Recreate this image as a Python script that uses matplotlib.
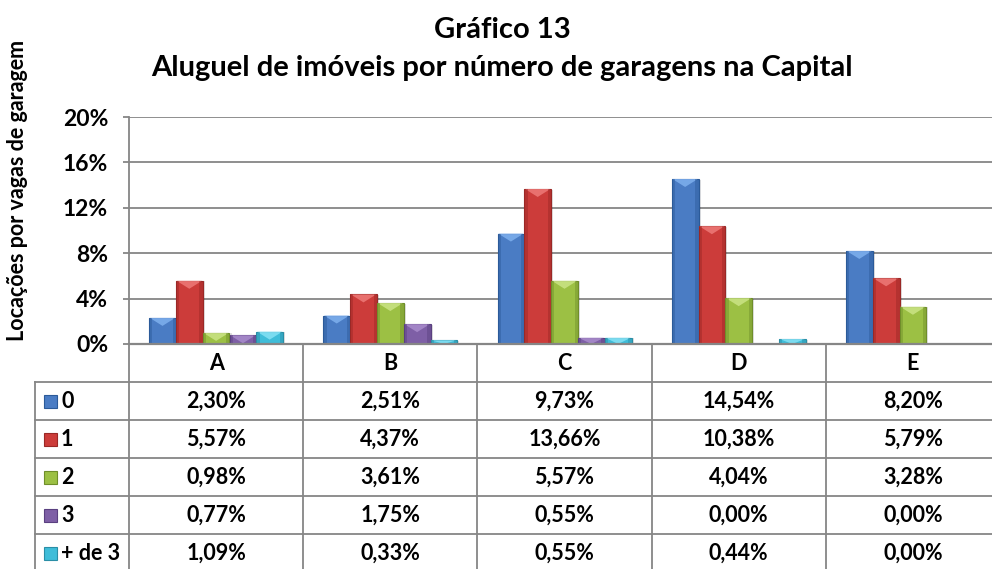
import numpy as np
import matplotlib
matplotlib.use("Agg")
import matplotlib.pyplot as plt
import matplotlib.transforms as mtransforms
from matplotlib.patches import Rectangle, Polygon

plt.rcParams['font.family'] = ['Lato', 'DejaVu Sans']
plt.rcParams['font.weight'] = 'bold'

categories = ["A", "B", "C", "D", "E"]
series_names = ["0", "1", "2", "3", "+ de 3"]
# percentages
s0 = [2.30, 2.51, 9.73, 14.54, 8.20]
s1 = [5.57, 4.37, 13.66, 10.38, 5.79]
s2 = [0.98, 3.61, 5.57, 4.04, 3.28]
s3 = [0.77, 1.75, 0.55, 0.00, 0.00]
s4 = [1.09, 0.33, 0.55, 0.44, 0.00]
series = [s0, s1, s2, s3, s4]
yticks = [0, 4, 8, 12, 16, 20]

colors = ["#4a7cc4", "#cc3c3a", "#9cc044", "#7e5fa6", "#3fbdd9"]
edges = ["#2b5a99", "#9a2826", "#6f8e2a", "#5a4080", "#2a8ea6"]
tops = ["#7fb0ee", "#ee7a78", "#cbe486", "#a98ccc", "#86e2f5"]

W, H = 992, 569
fig = plt.figure(figsize=(W / 100, H / 100), dpi=100)

def fx(px):
    return px / W

def fy(py):
    return 1 - py / H

ax_l, ax_r, ax_t, ax_b = 129, 1000, 117, 344
ax = fig.add_axes([fx(ax_l), fy(ax_b), fx(ax_r - ax_l), fy(ax_t) - fy(ax_b)])
ax.set_xlim(0, len(categories))
ax.set_ylim(0, 20)
for s in ["top", "right", "bottom"]:
    ax.spines[s].set_visible(False)
ax.spines["left"].set_color("#868686")
ax.spines["left"].set_linewidth(1.3)
ax.set_xticks([])
ax.set_yticks(yticks)
ax.set_yticklabels([f"{v}%" for v in yticks], fontsize=16.5, fontweight='bold')
ax.tick_params(axis='y', length=4, color="#868686", width=1.3, pad=11)
ax.grid(axis='y', color="#868686", linewidth=1.3)
ax.set_axisbelow(True)

# bars with a simple bevel look
n = len(series)
bw = 1 / (n + 1.5)
ppu = (ax_b - ax_t) / 20.0  # pixels per percent
for k, vals in enumerate(series):
    for i, v in enumerate(vals):
        x0 = i + 0.5 - n * bw / 2 + k * bw
        if v <= 0:
            continue
        # shadow
        ax.add_patch(Rectangle((x0 + 0.012, 0), bw, v - 0.05, facecolor="#000000",
                               alpha=0.12, linewidth=0, zorder=2))
        ax.add_patch(Rectangle((x0, 0), bw, v, facecolor=colors[k],
                               edgecolor=edges[k], linewidth=0.8, zorder=3))
        cap = min(v, 8 / ppu)
        ax.add_patch(Polygon([(x0 + 0.004, v), (x0 + bw - 0.004, v),
                              (x0 + bw * 0.5, v - cap)],
                             closed=True, facecolor=tops[k], linewidth=0,
                             alpha=0.85, zorder=4))
        ax.add_patch(Rectangle((x0, 0), bw * 0.12, v, facecolor=edges[k],
                               alpha=0.45, linewidth=0, zorder=4))
        ax.add_patch(Rectangle((x0 + bw * 0.88, 0), bw * 0.12, v, facecolor=edges[k],
                               alpha=0.45, linewidth=0, zorder=4))

# data table below the axes
tr = mtransforms.blended_transform_factory(ax.transData, fig.transFigure)
line_c = "#868686"
row_edges = [344, 382, 420, 458, 496, 534, 572]
tab_l = 35
fs_tab = 15.5

# horizontal lines
fig.add_artist(plt.Line2D([fx(ax_l), fx(ax_r)], [fy(row_edges[0])] * 2,
                          color=line_c, linewidth=1.6))
for yp in row_edges[1:]:
    fig.add_artist(plt.Line2D([fx(tab_l), fx(ax_r)], [fy(yp)] * 2,
                              color=line_c, linewidth=1.3))
# vertical lines
fig.add_artist(plt.Line2D([fx(tab_l)] * 2, [fy(row_edges[1]), fy(row_edges[-1])],
                          color=line_c, linewidth=1.3))
fig.add_artist(plt.Line2D([fx(ax_l)] * 2, [fy(row_edges[0]), fy(row_edges[-1])],
                          color=line_c, linewidth=1.3))
for i in range(1, len(categories)):
    fig.add_artist(plt.Line2D([i, i], [fy(row_edges[0]), fy(row_edges[-1])],
                              transform=tr, color=line_c, linewidth=1.3))

# header
for i, c in enumerate(categories):
    fig.text(i + 0.5, fy((row_edges[0] + row_edges[1]) / 2), c, transform=tr,
             ha='center', va='center', fontsize=fs_tab, fontweight='bold')

# rows
for k, vals in enumerate(series):
    yc = fy((row_edges[k + 1] + row_edges[k + 2]) / 2)
    fig.patches.append(Rectangle((fx(44), yc - 6.5 / H), 13 / W, 13 / H,
                                 transform=fig.transFigure, facecolor=colors[k],
                                 edgecolor=edges[k], linewidth=0.8))
    fig.text(fx(61), yc, series_names[k], ha='left', va='center',
             fontsize=fs_tab, fontweight='bold')
    for i, v in enumerate(vals):
        txt = f"{v:.2f}%".replace(".", ",")
        fig.text(i + 0.5, yc, txt, transform=tr, ha='center', va='center',
                 fontsize=fs_tab, fontweight='bold')

# titles
fig.text(0.506, fy(30), "Gráfico 13", ha='center', va='center',
         fontsize=21, fontweight='bold')
fig.text(0.506, fy(68), "Aluguel de imóveis por número de garagens na Capital",
         ha='center', va='center', fontsize=21, fontweight='bold')
fig.text(fx(18), fy(190), "Locações por vagas de garagem", rotation=90,
         ha='center', va='center', fontsize=15.5, fontweight='bold')

fig.savefig("out.png", dpi=100)
